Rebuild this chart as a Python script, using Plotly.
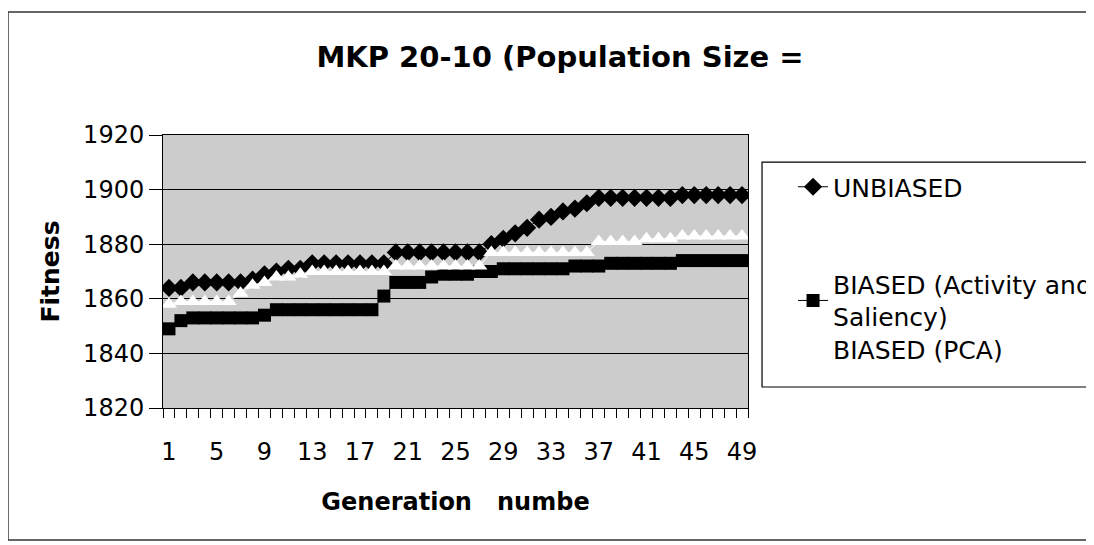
import plotly.graph_objs as go

# Generation numbers 1..49 and fitness
generations = list(range(1, 50))

unbiased = [1864, 1864, 1866, 1866, 1866, 1866, 1866, 1867, 1869, 1870,
            1871, 1871, 1873, 1873, 1873, 1873, 1873, 1873, 1873, 1877,
            1877, 1877, 1877, 1877, 1877, 1877, 1877, 1880, 1882, 1884,
            1886, 1889, 1890, 1892, 1893, 1895, 1897, 1897, 1897, 1897,
            1897, 1897, 1897, 1898, 1898, 1898, 1898, 1898, 1898]

biased_activity = [1849, 1852, 1853, 1853, 1853, 1853, 1853, 1853, 1854, 1856,
                   1856, 1856, 1856, 1856, 1856, 1856, 1856, 1856, 1861, 1866,
                   1866, 1866, 1868, 1869, 1869, 1869, 1870, 1870, 1871, 1871,
                   1871, 1871, 1871, 1871, 1872, 1872, 1872, 1873, 1873, 1873,
                   1873, 1873, 1873, 1874, 1874, 1874, 1874, 1874, 1874]

biased_pca = [1858, 1859, 1859, 1859, 1859, 1859, 1862, 1865, 1866, 1868,
              1868, 1869, 1870, 1870, 1870, 1870, 1870, 1870, 1870, 1872,
              1872, 1872, 1872, 1872, 1872, 1872, 1872, 1877, 1877, 1877,
              1877, 1877, 1877, 1877, 1877, 1877, 1881, 1881, 1881, 1881,
              1882, 1882, 1882, 1883, 1883, 1883, 1883, 1883, 1883]

x_tick_vals = [1, 5, 9, 13, 17, 21, 25, 29, 33, 37, 41, 45, 49]
y_tick_vals = [1820, 1840, 1860, 1880, 1900, 1920]

FONT = "DejaVu Sans"
# page body has an 8px margin, so the figure is sized to fit the window after it
W, H = 1086, 537

fig = go.Figure()

fig.add_trace(go.Scatter(
    x=generations, y=unbiased, mode='lines+markers', name='UNBIASED',
    line=dict(color='black', width=1),
    marker=dict(symbol='diamond', size=14, color='black'),
    legend='legend'
))
fig.add_trace(go.Scatter(
    x=generations, y=biased_activity, mode='lines+markers',
    name='BIASED (Activity and<br>Saliency)',
    line=dict(color='black', width=1),
    marker=dict(symbol='square', size=13, color='black'),
    legend='legend2'
))
fig.add_trace(go.Scatter(
    x=generations, y=biased_pca, mode='lines+markers', name='BIASED (PCA)',
    line=dict(color='white', width=1),
    marker=dict(symbol='triangle-up', size=14, color='white'),
    legend='legend3'
))

legend_style = dict(x=1.077, xanchor='left', yanchor='middle',
                    font=dict(family=FONT, size=25, color='black'),
                    bgcolor='rgba(0,0,0,0)', borderwidth=0)

fig.update_layout(
    width=W,
    height=H,
    margin=dict(l=155, r=346, t=127, b=137, autoexpand=False),
    paper_bgcolor='white',
    plot_bgcolor='#cccccc',
    font=dict(family=FONT, color='black'),
    showlegend=True,
    title=dict(text='MKP 20-10 (Population Size =', x=552 / W, xanchor='center',
               y=1 - 49 / H, yanchor='middle',
               font=dict(family=FONT, size=29, weight='bold')),
    legend=dict(y=0.8095, **legend_style),
    legend2=dict(y=0.394, **legend_style),
    legend3=dict(y=0.2125, **legend_style),
    xaxis=dict(
        range=[0.5, 49.5],
        tickmode='array', tickvals=x_tick_vals,
        ticktext=[str(v) for v in x_tick_vals],
        ticks='', ticklabelstandoff=22,
        tickfont=dict(size=24),
        minor=dict(ticks='outside', tickmode='linear', tick0=0.5, dtick=1,
                   ticklen=9, tickcolor='black', tickwidth=1, showgrid=False),
        showline=True, linecolor='black', linewidth=1, mirror=True,
        showgrid=False, zeroline=False,
        title=dict(text='Generation&nbsp;&nbsp; numbe', standoff=28,
                   font=dict(size=24, weight='bold')),
    ),
    yaxis=dict(
        range=[1820, 1920],
        tickmode='array', tickvals=y_tick_vals,
        ticks='outside', ticklen=13, tickcolor='black',
        tickfont=dict(size=24),
        showline=True, linecolor='black', linewidth=1, mirror=True,
        showgrid=True, gridcolor='black', gridwidth=1, zeroline=False,
        title=dict(text='Fitness', standoff=16,
                   font=dict(size=25, weight='bold')),
    ),
)

# legend box and outer chart frame, both running past the right edge like the scan
fig.add_shape(type='rect', xref='paper', yref='paper',
              x0=1.024, x1=1.75, y0=0.077, y1=0.901,
              line=dict(color='black', width=1.2))
fig.add_shape(type='rect', xref='paper', yref='paper',
              x0=-0.265, x1=1.75, y0=-0.4835, y1=1.4505,
              line=dict(color='#333333', width=1.5))

fig.write_html("out.html")
